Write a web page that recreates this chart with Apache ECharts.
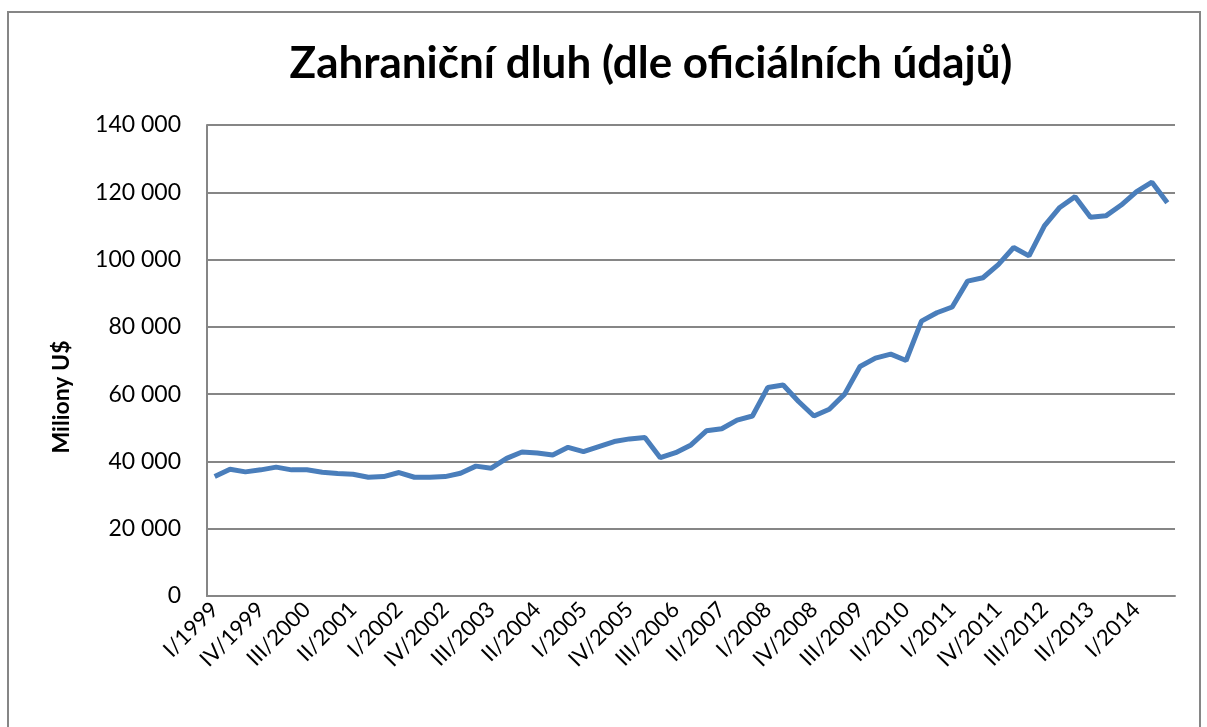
<!DOCTYPE html>
<html>
<head>
<meta charset="utf-8">
<script src="https://cdn.jsdelivr.net/npm/echarts@6/dist/echarts.min.js"></script>
<style>
	html, body { margin: 0; padding: 0; background: #fff; }
	#chart { width: 1207px; height: 727px; }
</style>
</head>
<body>
<div id="chart"></div>
<script>
const quarters = [
	'I/1999', 'II/1999', 'III/1999', 'IV/1999',
	'I/2000', 'II/2000', 'III/2000', 'IV/2000',
	'I/2001', 'II/2001', 'III/2001', 'IV/2001',
	'I/2002', 'II/2002', 'III/2002', 'IV/2002',
	'I/2003', 'II/2003', 'III/2003', 'IV/2003',
	'I/2004', 'II/2004', 'III/2004', 'IV/2004',
	'I/2005', 'II/2005', 'III/2005', 'IV/2005',
	'I/2006', 'II/2006', 'III/2006', 'IV/2006',
	'I/2007', 'II/2007', 'III/2007', 'IV/2007',
	'I/2008', 'II/2008', 'III/2008', 'IV/2008',
	'I/2009', 'II/2009', 'III/2009', 'IV/2009',
	'I/2010', 'II/2010', 'III/2010', 'IV/2010',
	'I/2011', 'II/2011', 'III/2011', 'IV/2011',
	'I/2012', 'II/2012', 'III/2012', 'IV/2012',
	'I/2013', 'II/2013', 'III/2013', 'IV/2013',
	'I/2014', 'II/2014', 'III/2014'
];

// zahraniční dluh, miliony US$
const debt = [
	35500, 37700, 36900, 37500, 38300, 37500, 37500, 36800, 36400, 36200,
	35300, 35500, 36700, 35300, 35300, 35500, 36500, 38600, 38000, 40900,
	42800, 42500, 41900, 44200, 42900, 44400, 45900, 46700, 47100, 41100,
	42600, 44900, 49100, 49700, 52300, 53500, 62000, 62700, 57800, 53500,
	55500, 60000, 68200, 70700, 71900, 70000, 81700, 84200, 85900, 93600,
	94600, 98500, 103600, 101100, 110000, 115500, 118700, 112600, 113000, 116200,
	120200, 123000, 116900
];

const yTicks = [0, 20000, 40000, 60000, 80000, 100000, 120000, 140000];

const font = 'Lato, "Open Sans", sans-serif';
const gray = '#868686';

const fmt = (v) => String(v).replace(/\B(?=(\d{3})+(?!\d))/g, ' ');

const chart = echarts.init(document.getElementById('chart'));
chart.setOption({
	backgroundColor: '#fff',
	animation: false,
	title: {
		text: 'Zahraniční dluh (dle oficiálních údajů)',
		left: 646,
		textAlign: 'center',
		top: 37,
		textStyle: {
			fontFamily: font,
			fontWeight: 'bold',
			fontSize: 44,
			color: '#000'
		}
	},
	graphic: [{
		type: 'rect',
		shape: { x: 8, y: 12, width: 1192, height: 740 },
		style: { fill: 'none', stroke: gray, lineWidth: 2 },
		silent: true,
		z: -1
	}, {
		type: 'text',
		x: 62,
		y: 397,
		rotation: Math.PI / 2,
		style: {
			text: 'Miliony U$',
			fontFamily: font,
			fontWeight: 'bold',
			fontSize: 23,
			fill: '#000',
			align: 'center',
			verticalAlign: 'middle'
		},
		silent: true
	}],
	grid: {
		left: 207,
		right: 32,
		top: 125,
		bottom: 131,
		containLabel: false
	},
	xAxis: {
		type: 'category',
		data: quarters,
		boundaryGap: true,
		axisLine: { lineStyle: { color: gray, width: 2 } },
		axisTick: { show: false },
		axisLabel: {
			interval: 2,
			rotate: 45,
			margin: 10,
			fontFamily: font,
			fontSize: 22,
			color: '#000'
		}
	},
	yAxis: {
		type: 'value',
		min: 0,
		max: yTicks[yTicks.length - 1],
		interval: yTicks[1] - yTicks[0],
		axisLine: { show: true, lineStyle: { color: gray, width: 2 } },
		axisTick: { show: false },
		splitLine: { lineStyle: { color: gray, width: 2 } },
		axisLabel: {
			margin: 26,
			fontFamily: font,
			fontSize: 23,
			color: '#000',
			formatter: fmt
		}
	},
	series: [{
		type: 'line',
		data: debt,
		symbol: 'none',
		lineStyle: { color: '#4A7EBB', width: 5 },
		itemStyle: { color: '#4A7EBB' }
	}]
});
</script>
</body>
</html>
